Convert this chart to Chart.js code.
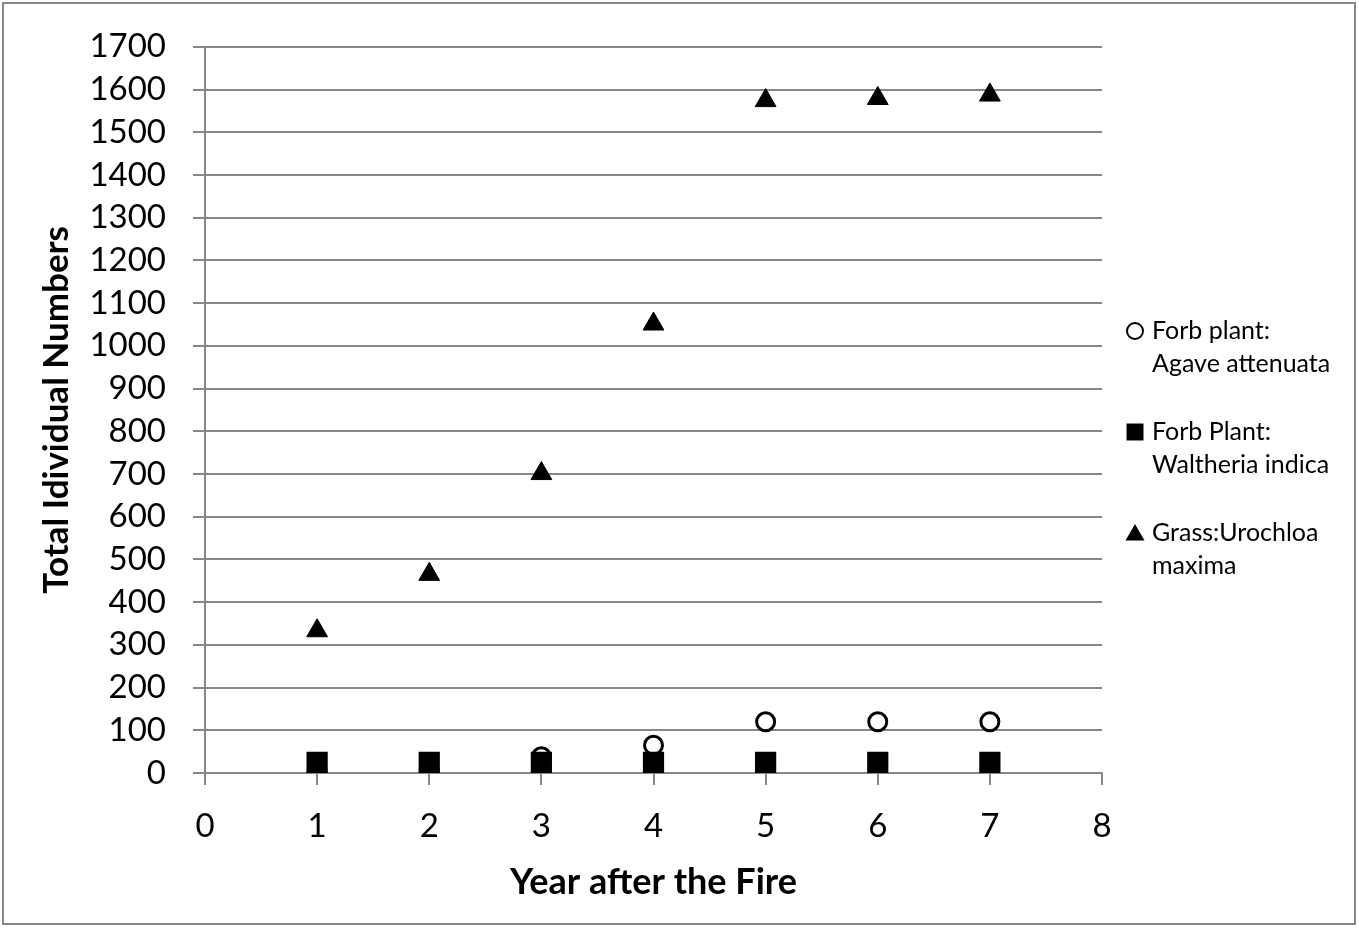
<!DOCTYPE html>
<html>
<head>
<meta charset="utf-8">
<style>
  html, body { margin: 0; padding: 0; background: #fff; }
  #wrap { width: 1359px; height: 928px; position: relative; }
</style>
</head>
<body>
<div id="wrap"><canvas id="myChart" width="1359" height="928"></canvas></div>
<script src="https://cdn.jsdelivr.net/npm/chart.js"></script>
<script>
// data
const years = [1, 2, 3, 4, 5, 6, 7];
const agave = [3, 8, 38, 65, 120, 120, 120];        // open circles
const waltheria = [25, 25, 25, 25, 25, 25, 25];     // filled squares
const urochloa = [333, 465, 701, 1051, 1574, 1579, 1587]; // filled triangles
const legendLines = [
  ['Forb plant:', 'Agave attenuata'],
  ['Forb Plant:', 'Waltheria indica'],
  ['Grass:Urochloa', 'maxima']
];

const gridGray = '#878787';
const pts = (ys) => years.map((x, i) => ({ x: x, y: ys[i] }));

// legend on the right with two-line labels, plus the outer frame
const sideLegend = {
  id: 'sideLegend',
  afterDraw(chart) {
    const ctx = chart.ctx;
    ctx.save();
    ctx.strokeStyle = gridGray;
    ctx.lineWidth = 2;
    ctx.strokeRect(3, 3, 1352, 921);

    ctx.font = '25px Lato';
    ctx.textBaseline = 'middle';
    const rows = [331, 432, 533];
    const styles = ['circle', 'rect', 'triangle'];
    const fills = ['#fff', '#000', '#000'];
    const radii = [8, 12, 11];
    rows.forEach((y, i) => {
      ctx.fillStyle = fills[i];
      ctx.strokeStyle = '#000';
      ctx.lineWidth = 2;
      Chart.helpers.drawPoint(ctx, {
        pointStyle: styles[i],
        radius: radii[i],
        borderWidth: styles[i] === 'circle' ? 2 : 0
      }, 1135, y + (styles[i] === 'triangle' ? 2 : 0));
      ctx.fillStyle = '#000';
      ctx.fillText(legendLines[i][0], 1152, y);
      ctx.fillText(legendLines[i][1], 1152, y + 33);
    });
    ctx.restore();
  }
};

const plainNum = (v) => String(v);

const ctx = document.getElementById('myChart').getContext('2d');
new Chart(ctx, {
  type: 'scatter',
  data: {
    datasets: [
      {
        label: 'Forb plant: Agave attenuata',
        data: pts(agave),
        pointStyle: 'circle',
        pointRadius: 9,
        pointBorderWidth: 3,
        backgroundColor: '#fff',
        borderColor: '#000',
        order: 2
      },
      {
        label: 'Forb Plant: Waltheria indica',
        data: pts(waltheria),
        pointStyle: 'rect',
        pointRadius: 15,
        pointBorderWidth: 0,
        backgroundColor: '#000',
        borderColor: '#000',
        order: 1
      },
      {
        label: 'Grass:Urochloa maxima',
        data: pts(urochloa),
        pointStyle: 'triangle',
        pointRadius: 12,
        pointBorderWidth: 1,
        backgroundColor: '#000',
        borderColor: '#000',
        order: 0
      }
    ]
  },
  options: {
    responsive: false,
    animation: false,
    layout: { padding: { left: 36, right: 257, top: 44, bottom: 20 } },
    plugins: {
      legend: { display: false },
      tooltip: { enabled: false }
    },
    scales: {
      x: {
        type: 'linear',
        min: 0,
        max: 8,
        ticks: { stepSize: 1, padding: 22, color: '#000', font: { family: 'Lato', size: 33 }, callback: plainNum },
        grid: { drawOnChartArea: false, drawTicks: true, tickLength: 12, color: gridGray, lineWidth: 2 },
        border: { color: gridGray, width: 2 },
        title: {
          display: true,
          text: 'Year after the Fire',
          color: '#000',
          font: { family: 'Lato', size: 36, weight: 'bold' },
          padding: { top: 8, bottom: 4 }
        },
        afterFit(scale) { scale.height = 135; }
      },
      y: {
        min: 0,
        max: 1700,
        ticks: { stepSize: 100, padding: 27, color: '#000', font: { family: 'Lato', size: 33 }, callback: plainNum },
        grid: { drawTicks: true, tickLength: 12, color: gridGray, lineWidth: 2 },
        border: { color: gridGray, width: 2 },
        title: {
          display: true,
          text: 'Total Idividual Numbers',
          color: '#000',
          font: { family: 'Lato', size: 35, weight: 'bold' },
          padding: 0
        },
        afterFit(scale) { scale.width = 169; }
      }
    }
  },
  plugins: [sideLegend]
});
</script>
</body>
</html>
